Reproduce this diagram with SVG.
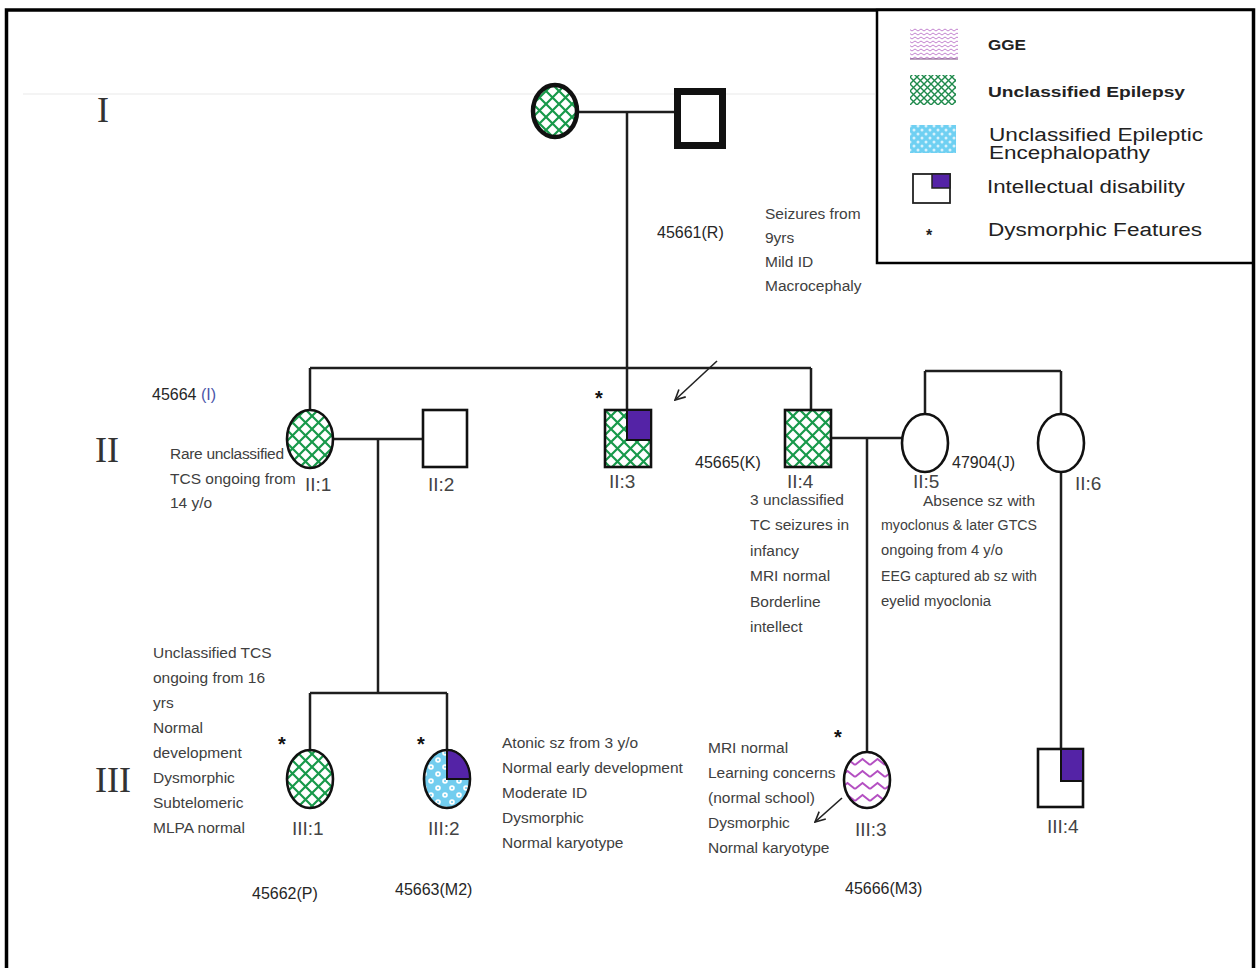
<svg xmlns="http://www.w3.org/2000/svg" width="1257" height="968" viewBox="0 0 1257 968">
  <defs>
    <!-- green crosshatch: unclassified epilepsy -->
    <pattern id="hatch" patternUnits="userSpaceOnUse" width="13" height="13">
      <rect width="13" height="13" fill="#ffffff"/>
      <path d="M0,0 L13,13 M13,0 L0,13" stroke="#17994a" stroke-width="2.2"/>
    </pattern>
    <pattern id="hatchSmall" patternUnits="userSpaceOnUse" width="7" height="7">
      <rect width="7" height="7" fill="#ffffff"/>
      <path d="M0,0 L7,7 M7,0 L0,7" stroke="#1f8a4c" stroke-width="1.4"/>
    </pattern>
    <!-- zigzag: GGE -->
    <pattern id="zigzag" patternUnits="userSpaceOnUse" width="15" height="12">
      <rect width="15" height="12" fill="#ffffff"/>
      <path d="M0,9 L7.5,3 L15,9" fill="none" stroke="#b44fc2" stroke-width="2"/>
    </pattern>
    <pattern id="zigzagSmall" patternUnits="userSpaceOnUse" width="6" height="4">
      <rect width="6" height="4" fill="#ffffff"/>
      <path d="M0,3 L3,1 L6,3" fill="none" stroke="#c484d0" stroke-width="1"/>
    </pattern>
    <!-- blue dotted: unclassified epileptic encephalopathy -->
    <pattern id="dots" patternUnits="userSpaceOnUse" width="14" height="14">
      <rect width="14" height="14" fill="#72cdef"/>
      <circle cx="4" cy="4" r="2.8" fill="#ffffff"/>
      <circle cx="4" cy="4" r="1.1" fill="#72cdef"/>
      <circle cx="11" cy="11" r="2.8" fill="#ffffff"/>
      <circle cx="11" cy="11" r="1.1" fill="#72cdef"/>
    </pattern>
    <pattern id="dotsSmall" patternUnits="userSpaceOnUse" width="8" height="8">
      <rect width="8" height="8" fill="#6fd0f2"/>
      <circle cx="2" cy="2" r="1.5" fill="#d8f2fc"/>
      <circle cx="6" cy="6" r="1.5" fill="#d8f2fc"/>
    </pattern>
    <marker id="arrow" viewBox="0 0 12 12" refX="11" refY="6" markerWidth="12" markerHeight="12" markerUnits="userSpaceOnUse" orient="auto">
      <path d="M1,1 L11,6 L1,11" fill="none" stroke="#222" stroke-width="1.6"/>
    </marker>
    <style>
      .line { fill: none; stroke: #1e1e1e; stroke-width: 2.5; }
      .shape { stroke: #111; stroke-width: 2.6; }
      .id { fill: #5423a6; stroke: #111; stroke-width: 2; }
      .note { font-family: "Liberation Sans", Arial, sans-serif; font-size: 15.5px; fill: #404040; }
      .code { font-family: "Liberation Sans", Arial, sans-serif; font-size: 16px; fill: #262626; }
      .lbl { font-family: "Liberation Sans", Arial, sans-serif; font-size: 19px; fill: #444; }
      .gen { font-family: "Liberation Serif", "Times New Roman", serif; font-size: 36px; fill: #333; }
      .star { font-family: "Liberation Sans", Arial, sans-serif; font-size: 20px; font-weight: bold; fill: #111; }
      .leg { font-family: "Liberation Sans", Arial, sans-serif; fill: #222; }
    </style>
  </defs>

  <rect width="1257" height="968" fill="#ffffff"/>
  <!-- outer frame -->
  <rect x="6.5" y="10" width="1247" height="975" fill="none" stroke="#000" stroke-width="3.5"/>
  <!-- faint guide across generation I -->
  <line x1="23" y1="94" x2="875" y2="94" stroke="#f0f0f0" stroke-width="1.5"/>

  <!-- generation numerals -->
  <g id="generations">
    <text class="gen" x="97" y="122">I</text>
    <text class="gen" x="95" y="462">II</text>
    <text class="gen" x="95" y="792">III</text>
  </g>

  <!-- connectors -->
  <g id="connectors">
    <path class="line" d="M577,112 H674"/>
    <path class="line" d="M627,112 V410"/>
    <path class="line" d="M310,368 H811 M310,368 V410 M811,368 V410"/>
    <path class="line" d="M333,439 H423"/>
    <path class="line" d="M378,439 V693"/>
    <path class="line" d="M310,693 H447 M310,693 V750 M447,693 V750"/>
    <path class="line" d="M831,438 H902"/>
    <path class="line" d="M867,438 V752"/>
    <path class="line" d="M925,371 H1061 M925,371 V414 M1061,371 V414"/>
    <path class="line" d="M1061,472 V749"/>
    <line x1="717" y1="361" x2="675" y2="400" stroke="#222" stroke-width="1.6" marker-end="url(#arrow)"/>
    <line x1="842" y1="798" x2="815" y2="822" stroke="#222" stroke-width="1.6" marker-end="url(#arrow)"/>
  </g>

  <!-- generation I -->
  <g id="I-1">
    <ellipse cx="555" cy="111" rx="22" ry="26" fill="url(#hatch)" stroke="#111" stroke-width="4.5"/>
  </g>
  <g id="I-2">
    <rect x="677.5" y="91.5" width="45" height="54" fill="#ffffff" stroke="#111" stroke-width="7"/>
  </g>
  <g id="I-2-notes">
    <text class="code" x="657" y="238">45661(R)</text>
    <text class="note" x="765" y="219">Seizures from</text>
    <text class="note" x="765" y="243">9yrs</text>
    <text class="note" x="765" y="267">Mild ID</text>
    <text class="note" x="765" y="291">Macrocephaly</text>
  </g>

  <!-- generation II -->
  <g id="II-1">
    <ellipse class="shape" cx="310" cy="439" rx="23" ry="29" fill="url(#hatch)"/>
    <text class="lbl" x="305" y="491">II:1</text>
    <text class="code" x="152" y="400">45664 <tspan fill="#4a55a8">(I)</tspan></text>
    <text class="note" x="170" y="459" textLength="114">Rare unclassified</text>
    <text class="note" x="170" y="484">TCS ongoing from</text>
    <text class="note" x="170" y="508">14 y/o</text>
  </g>
  <g id="II-2">
    <rect class="shape" x="423" y="410" width="44" height="57" fill="#ffffff"/>
    <text class="lbl" x="428" y="491">II:2</text>
  </g>
  <g id="II-3">
    <rect class="shape" x="605" y="410" width="46" height="57" fill="url(#hatch)"/>
    <rect class="id" x="627" y="410" width="24" height="30"/>
    <text class="star" x="595" y="405">*</text>
    <text class="lbl" x="609" y="488">II:3</text>
  </g>
  <g id="II-4">
    <rect class="shape" x="785" y="410" width="46" height="57" fill="url(#hatch)"/>
    <text class="lbl" x="787" y="488">II:4</text>
    <text class="code" x="695" y="468">45665(K)</text>
    <text class="note" x="750" y="505">3 unclassified</text>
    <text class="note" x="750" y="530">TC seizures in</text>
    <text class="note" x="750" y="556">infancy</text>
    <text class="note" x="750" y="581">MRI normal</text>
    <text class="note" x="750" y="607">Borderline</text>
    <text class="note" x="750" y="632">intellect</text>
  </g>
  <g id="II-5">
    <ellipse class="shape" cx="925" cy="443" rx="23" ry="29" fill="#ffffff"/>
    <text class="lbl" x="913" y="488">II:5</text>
    <text class="code" x="952" y="468">47904(J)</text>
    <text class="note" x="923" y="506" textLength="112">Absence sz with</text>
    <text class="note" x="881" y="530" textLength="156" lengthAdjust="spacingAndGlyphs">myoclonus &amp; later GTCS</text>
    <text class="note" x="881" y="555" textLength="122" lengthAdjust="spacingAndGlyphs">ongoing from 4 y/o</text>
    <text class="note" x="881" y="581" textLength="156" lengthAdjust="spacingAndGlyphs">EEG captured ab sz with</text>
    <text class="note" x="881" y="606" textLength="110" lengthAdjust="spacingAndGlyphs">eyelid myoclonia</text>
  </g>
  <g id="II-6">
    <ellipse class="shape" cx="1061" cy="443" rx="23" ry="29" fill="#ffffff"/>
    <text class="lbl" x="1075" y="490">II:6</text>
  </g>

  <!-- generation III -->
  <g id="III-1">
    <ellipse class="shape" cx="310" cy="779" rx="23" ry="29" fill="url(#hatch)"/>
    <text class="star" x="278" y="751">*</text>
    <text class="lbl" x="292" y="835">III:1</text>
    <text class="code" x="252" y="899">45662(P)</text>
    <text class="note" x="153" y="658">Unclassified TCS</text>
    <text class="note" x="153" y="683">ongoing from 16</text>
    <text class="note" x="153" y="708">yrs</text>
    <text class="note" x="153" y="733">Normal</text>
    <text class="note" x="153" y="758">development</text>
    <text class="note" x="153" y="783">Dysmorphic</text>
    <text class="note" x="153" y="808">Subtelomeric</text>
    <text class="note" x="153" y="833">MLPA normal</text>
  </g>
  <g id="III-2">
    <ellipse class="shape" cx="447" cy="779" rx="23" ry="29" fill="url(#dots)"/>
    <path class="id" d="M447,779 V750 A23,29 0 0 1 470,779 Z"/>
    <text class="star" x="417" y="751">*</text>
    <text class="lbl" x="428" y="835">III:2</text>
    <text class="code" x="395" y="895">45663(M2)</text>
    <text class="note" x="502" y="748">Atonic sz from 3 y/o</text>
    <text class="note" x="502" y="773">Normal early development</text>
    <text class="note" x="502" y="798">Moderate ID</text>
    <text class="note" x="502" y="823">Dysmorphic</text>
    <text class="note" x="502" y="848">Normal karyotype</text>
  </g>
  <g id="III-3">
    <ellipse class="shape" cx="867" cy="780" rx="23" ry="28" fill="url(#zigzag)"/>
    <text class="star" x="834" y="744">*</text>
    <text class="lbl" x="855" y="836">III:3</text>
    <text class="code" x="845" y="894">45666(M3)</text>
    <text class="note" x="708" y="753">MRI normal</text>
    <text class="note" x="708" y="778">Learning concerns</text>
    <text class="note" x="708" y="803">(normal school)</text>
    <text class="note" x="708" y="828">Dysmorphic</text>
    <text class="note" x="708" y="853">Normal karyotype</text>
  </g>
  <g id="III-4">
    <rect class="shape" x="1038" y="749" width="45" height="58" fill="#ffffff"/>
    <rect class="id" x="1061" y="749" width="22" height="32"/>
    <text class="lbl" x="1047" y="833">III:4</text>
  </g>

  <!-- key -->
  <g id="legend">
    <rect x="877" y="10" width="376" height="253" fill="#ffffff" stroke="#000" stroke-width="2.5"/>
    <rect x="910" y="28" width="48" height="31" fill="url(#zigzagSmall)"/>
    <line x1="910" y1="59" x2="958" y2="59" stroke="#7a4a80" stroke-width="1.2"/>
    <text class="leg" x="988" y="50" font-size="15" font-weight="bold" fill="#333" textLength="38" lengthAdjust="spacingAndGlyphs">GGE</text>
    <rect x="910" y="75" width="46" height="30" fill="url(#hatchSmall)"/>
    <text class="leg" x="988" y="97" font-size="15" font-weight="bold" fill="#333" textLength="197" lengthAdjust="spacingAndGlyphs">Unclassified Epilepsy</text>
    <rect x="910" y="125" width="46" height="28" fill="url(#dotsSmall)"/>
    <text class="leg" x="989" y="141" font-size="18" textLength="214" lengthAdjust="spacingAndGlyphs">Unclassified Epileptic</text>
    <text class="leg" x="989" y="159" font-size="18" textLength="161" lengthAdjust="spacingAndGlyphs">Encephalopathy</text>
    <rect x="913" y="174" width="37" height="29" fill="#ffffff" stroke="#222" stroke-width="1.8"/>
    <rect x="932" y="174" width="18" height="14" fill="#5423a6" stroke="#222" stroke-width="1.5"/>
    <text class="leg" x="987" y="193" font-size="18" textLength="198" lengthAdjust="spacingAndGlyphs">Intellectual disability</text>
    <text class="leg" x="926" y="241" font-size="16" font-weight="bold">*</text>
    <text class="leg" x="988" y="236" font-size="18" textLength="214" lengthAdjust="spacingAndGlyphs">Dysmorphic Features</text>
  </g>
</svg>
